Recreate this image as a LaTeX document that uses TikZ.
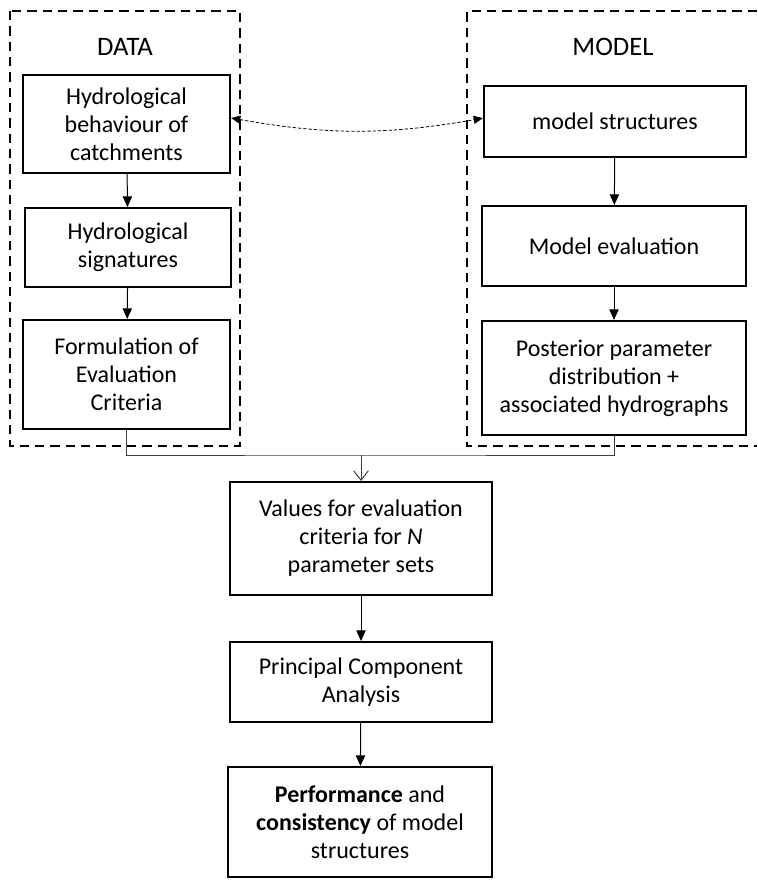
\documentclass[tikz,border=0pt]{standalone}
\usepackage{fontspec}
\setmainfont{Carlito}
\usetikzlibrary{arrows.meta}

\tikzset{every picture/.style={line width=0.75pt}}
\tikzset{
  stepbox/.style={draw, line width=1.5pt, align=center, inner sep=0pt,
    font=\fontsize{18}{21}\selectfont},
  group/.style={line width=1.5pt, dash pattern=on 7pt off 4.5pt},
  flow/.style={line width=0.75pt, -{Triangle[length=8pt,width=7pt]}},
}

\begin{document}
\begin{tikzpicture}[x=0.75pt,y=0.75pt,yscale=-1,xscale=1]
\useasboundingbox (0,0) rectangle (757,880);
% dashed groups
\draw [group] (10,11) rectangle (240,446);
\draw [group] (757,11) -- (467,11) -- (467,446) -- (757,446);
\node [font=\fontsize{20}{24}\selectfont] (data) at (125,47) {DATA};
\node [font=\fontsize{20}{24}\selectfont] (model) at (613,47) {MODEL};
% data side
\node [stepbox, minimum width=207*0.75pt, minimum height=98*0.75pt] (beh) at (126.5,124) {Hydrological\\behaviour of\\catchments};
\node [stepbox, minimum width=206*0.75pt, minimum height=79*0.75pt] (sig) at (128,247.5) {Hydrological\\signatures};
\node [stepbox, minimum width=207*0.75pt, minimum height=109*0.75pt] (crit) at (126.5,374.5) {Formulation of\\Evaluation\\Criteria};
% model side
\node [stepbox, minimum width=262*0.75pt, minimum height=71*0.75pt] (struct) at (615,121.5) {model structures};
\node [stepbox, minimum width=264*0.75pt, minimum height=80*0.75pt] (evalm) at (614,246) {Model evaluation};
\node [stepbox, minimum width=264*0.75pt, minimum height=114*0.75pt] (post) at (614,378) {Posterior parameter\\distribution +\\associated hydrographs};
% lower chain
\node [stepbox, minimum width=262*0.75pt, minimum height=113*0.75pt] (vals) at (361,538.5) {Values for evaluation\\criteria for \textit{N}\\parameter sets};
\node [stepbox, minimum width=262*0.75pt, minimum height=80*0.75pt] (pca) at (361,682) {Principal Component\\Analysis};
\node [stepbox, minimum width=264*0.75pt, minimum height=110*0.75pt] (perf) at (360,822) {\textbf{Performance} and\\\textbf{consistency} of model\\structures};

\draw [flow] (beh) -- (sig);
\draw [flow] (sig) -- (crit);
\draw [flow] (struct) -- (evalm);
\draw [flow] (evalm) -- (post);
\draw [line width=0.6pt, dash pattern=on 2.5pt off 1.5pt, {Triangle[length=7pt,width=6pt]}-{Triangle[length=7pt,width=6pt]}]
  ([yshift=-4.5pt]beh.east) to [bend left=10] ([yshift=-2.5pt]struct.west);
% merge
\coordinate (join) at (361,455);
\draw [black!75] (crit.south) |- (join) -| (post.south);
\draw [black!75, -{Straight Barb[length=7pt,width=11pt]}] (join) -- (vals.north);
\draw [flow] (vals) -- (pca);
\draw [flow] (pca) -- (perf);
\end{tikzpicture}
\end{document}
